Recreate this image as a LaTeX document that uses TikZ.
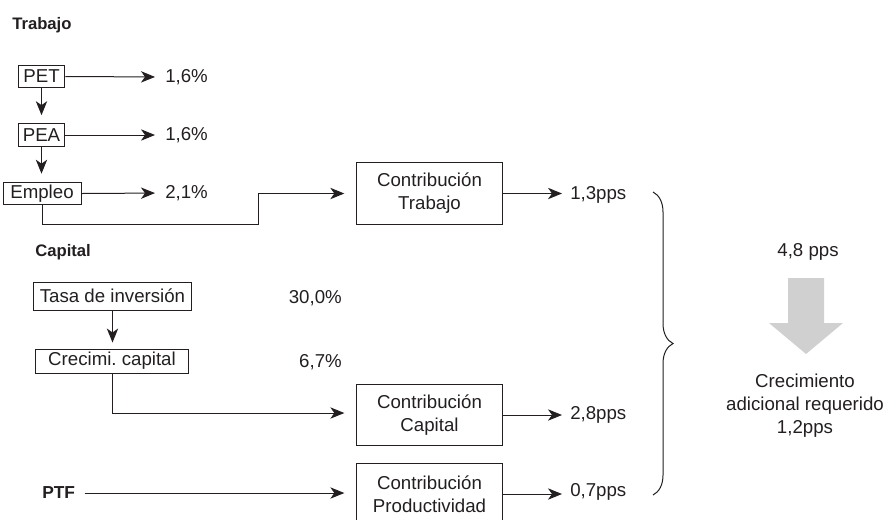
\documentclass[tikz,border=0pt]{standalone}
\usepackage{fontspec}
\setmainfont{Liberation Sans}
\usepackage{xcolor}
\usepackage{tikz}
\usetikzlibrary{arrows.meta,decorations.pathreplacing}

\definecolor{ink}{RGB}{35,31,32}
\definecolor{flecha}{RGB}{208,208,208}

\begin{document}
\begin{tikzpicture}[x=0.75pt,y=-0.75pt,
      font=\fontsize{14pt}{17.25pt}\selectfont, color=ink,
      caja/.style={draw=ink,line width=0.75pt,inner sep=0pt,align=center},
      dato/.style={inner sep=0pt},
      titulo/.style={inner sep=0pt,font=\fontsize{12.5pt}{15pt}\selectfont\bfseries},
      arr/.style={-{Stealth[length=10.5pt,width=8.5pt,inset=3pt]},line width=0.75pt,draw=ink}]
      \useasboundingbox (0,0) rectangle (887,519);
      % Trabajo
      \node[titulo,anchor=west] (trabajo) at (12,25) {Trabajo};
      \node[caja,minimum width=35pt,minimum height=17pt] (pet) at (41.5,76.5) {PET};
      \node[caja,minimum width=35pt,minimum height=17pt] (pea) at (41.5,135) {PEA};
      \node[caja,minimum width=58.5pt,minimum height=17pt] (empleo) at (42,193.5) {Empleo};
      \node[dato,anchor=west] (vpet) at (165,77) {1,6\%};
      \node[dato,anchor=west] (vpea) at (165,135) {1,6\%};
      \node[dato,anchor=west] (vemp) at (165,193) {2,1\%};
      \node[caja,minimum width=109pt,minimum height=46pt] (ctrab) at (429.5,193.5) {Contribución\\Trabajo};
      \node[dato,anchor=west] (rtrab) at (570,195) {1,3pps};
      % Capital
      \node[titulo,anchor=west] (capital) at (35,252) {Capital};
      \node[caja,minimum width=119pt,minimum height=21pt] (tasa) at (112.5,296) {Tasa de inversión};
      \node[dato,anchor=east] (vtasa) at (342,298) {30,0\%};
      \node[caja,minimum width=115pt,minimum height=18pt] (crecim) at (112,361) {Crecimi.\ capital};
      \node[dato,anchor=east] (vcrec) at (342,362) {6,7\%};
      \node[caja,minimum width=109pt,minimum height=46pt] (ccap) at (429.5,415) {Contribución\\Capital};
      \node[dato,anchor=west] (rcap) at (570,415) {2,8pps};
      % PTF
      \node[titulo,anchor=west,font=\fontsize{13pt}{15pt}\selectfont\bfseries] (ptf) at (42,493) {PTF};
      \node[caja,minimum width=109pt,minimum height=46pt] (cprod) at (429.5,494) {Contribución\\Productividad};
      \node[dato,anchor=west] (rprod) at (570,492) {0,7pps};
      % total
      \node[dato] (total) at (808,252) {4,8 pps};
      \node[dato,align=center] (req) at (805,406) {Crecimiento\\adicional requerido\\1,2pps};
      \fill[flecha] (788,278) -- (824,278) -- (824,323) -- (843,323) -- (806,354)
        -- (769,323) -- (788,323) -- cycle;

      \draw[arr,shorten >=7.5pt] (pet.east) -- (vpet.west);
      \draw[arr,shorten >=7.5pt] (pea.east) -- (vpea.west);
      \draw[arr,shorten >=7.5pt] (empleo.east) -- (vemp.west);
      \draw[arr,shorten >=6pt] (pet.south) -- (pea.north);
      \draw[arr,shorten >=6pt] (pea.south) -- (empleo.north -| pea.south);
      \coordinate (paso) at (258,224);
      \draw[arr,shorten >=9pt] (empleo.south) |- (paso) |- (ctrab.west);
      \draw[arr,shorten >=4.5pt] (tasa.south) -- (crecim.north -| tasa.south);
      \draw[arr,shorten >=9pt] (crecim.south) |- ([yshift=1.5pt]ccap.west);
      \draw[arr,shorten >=9pt] ([xshift=7pt]ptf.east) -- (ptf.east -| cprod.west);
      \draw[arr,shorten >=6pt] (ctrab.east) -- (ctrab.east -| rtrab.west);
      \draw[arr,shorten >=6pt] (ccap.east) -- (ccap.east -| rcap.west);
      \draw[arr,shorten >=6pt] (cprod.east) -- (cprod.east -| rprod.west);
      \coordinate (ltop) at (653,192);
      \coordinate (lbot) at (653,495);
      \draw[line width=0.75pt,decorate,decoration={brace,amplitude=15pt}] (ltop) -- (lbot);
\end{tikzpicture}
\end{document}
